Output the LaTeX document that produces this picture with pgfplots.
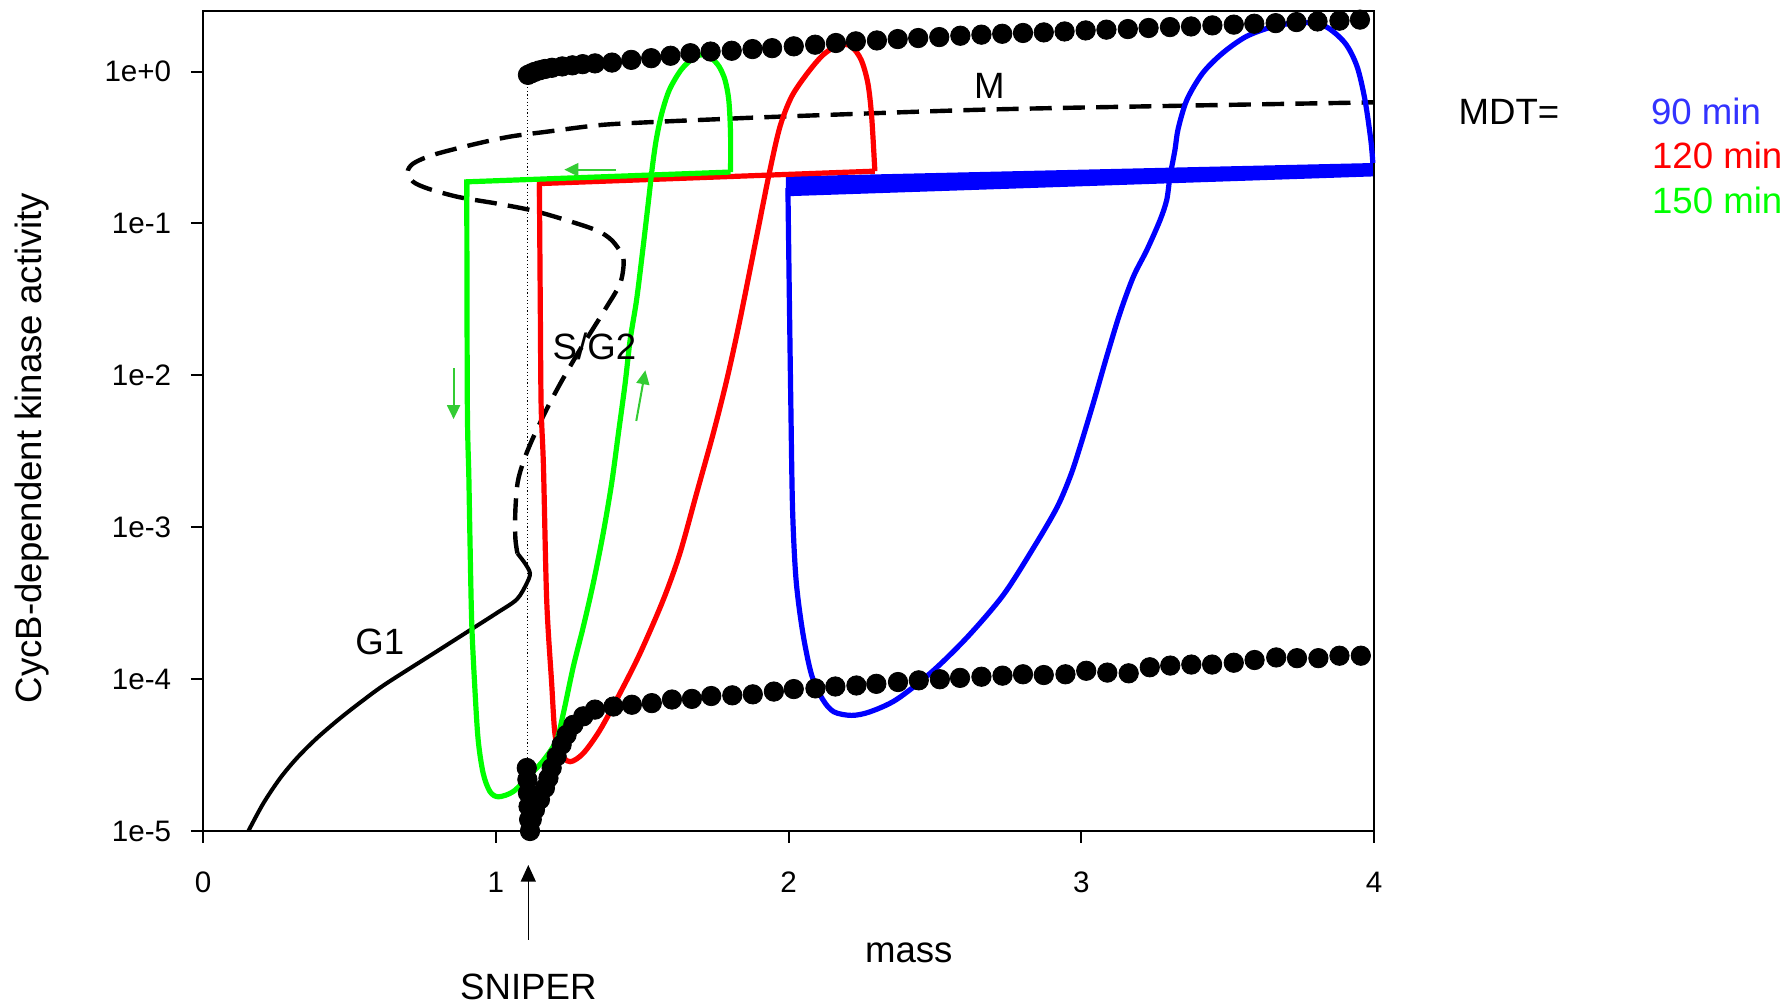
\documentclass[border=0pt]{standalone}
\usepackage{fontspec}
\setmainfont{Liberation Sans}
\usepackage{pgfplots}
\pgfplotsset{compat=1.18}
\usetikzlibrary{arrows.meta}
\definecolor{arrgreen}{RGB}{51,204,51}
\definecolor{txtblue}{RGB}{51,51,255}
\definecolor{cgreen}{RGB}{0,255,0}
\newcommand\lbl{\fontsize{18.3}{22}\selectfont}
\begin{document}
\begin{tikzpicture}
\path[use as bounding box] (-101.5pt,-87pt) rectangle (792.5pt,415.5pt);
\begin{axis}[
  at={(0pt,0pt)}, anchor=south west,
  scale only axis, width=585.5pt, height=409.8pt,
  xmin=0, xmax=4, ymode=log, ymin=1e-5, ymax=2.49,
  clip=false,
  axis line style={line width=1pt},
  tick pos=left, tick align=outside,
  major tick length=6pt,
  every tick/.style={black, line width=1pt},
  xtick={0,1,2,3,4}, xticklabels={0,1,2,3,4},
  ytick={1e-5,1e-4,1e-3,1e-2,1e-1,1},
  yticklabels={1e-5,1e-4,1e-3,1e-2,1e-1,1e+0},
  yminorticks=false,
  /pgf/number format/assume math mode=true,
  ticklabel style={font=\fontsize{14.8}{17}\selectfont},
  yticklabel style={anchor=east, inner sep=0pt, xshift=-9.7pt},
  xticklabel style={anchor=north, inner sep=0pt, yshift=-14.3pt},
]
% upper stable branch (max of oscillation)
\addplot[only marks, mark=*, mark size=4.85pt, black] coordinates {
(1.110,0.951)(1.122,0.975)(1.133,0.995)(1.149,1.019)(1.168,1.040)(1.192,1.059)(1.227,1.081)(1.262,1.099)(1.297,1.119)(1.339,1.132)(1.397,1.146)(1.463,1.194)(1.531,1.225)(1.597,1.271)(1.665,1.321)(1.734,1.355)(1.806,1.371)(1.877,1.406)(1.944,1.426)(2.018,1.466)(2.091,1.503)(2.162,1.542)(2.230,1.581)(2.302,1.603)(2.373,1.637)(2.443,1.663)(2.515,1.687)(2.587,1.722)(2.659,1.750)(2.730,1.774)(2.801,1.795)(2.872,1.811)(2.943,1.837)(3.015,1.866)(3.086,1.888)(3.159,1.905)(3.230,1.936)(3.303,1.963)(3.375,1.982)(3.448,2.014)(3.521,2.037)(3.591,2.065)(3.664,2.084)(3.735,2.118)(3.807,2.138)(3.882,2.163)(3.952,2.198)
};
% lower stable branch (min of oscillation)
\addplot[only marks, mark=*, mark size=4.85pt, black] coordinates {
(1.106,2.6e-5)(1.108,2.18e-5)(1.110,1.78e-5)(1.112,1.45e-5)(1.114,1.19e-5)(1.117,1.0e-5)(1.123,1.19e-5)(1.134,1.38e-5)(1.151,1.61e-5)(1.168,1.92e-5)(1.180,2.23e-5)(1.191,2.6e-5)(1.208,3.1e-5)(1.225,3.7e-5)(1.242,4.3e-5)(1.265,5.0e-5)(1.299,5.69e-5)(1.339,6.3e-5)(1.402,6.6e-5)(1.465,6.78e-5)(1.533,6.95e-5)(1.602,7.34e-5)(1.670,7.41e-5)(1.736,7.74e-5)(1.808,7.82e-5)(1.878,7.94e-5)(1.950,8.28e-5)(2.018,8.60e-5)(2.092,8.69e-5)(2.160,8.94e-5)(2.232,9.08e-5)(2.300,9.31e-5)(2.374,9.57e-5)(2.445,9.82e-5)(2.517,9.98e-5)(2.586,1.019e-4)(2.659,1.037e-4)(2.731,1.054e-4)(2.801,1.076e-4)(2.872,1.064e-4)(2.946,1.076e-4)(3.017,1.135e-4)(3.089,1.104e-4)(3.162,1.092e-4)(3.234,1.197e-4)(3.304,1.228e-4)(3.376,1.247e-4)(3.447,1.247e-4)(3.521,1.282e-4)(3.592,1.336e-4)(3.666,1.389e-4)(3.737,1.374e-4)(3.810,1.374e-4)(3.882,1.426e-4)(3.955,1.426e-4)
};
% SNIPER dotted line
\addplot[black, line width=0.5pt, dash pattern=on 0.6pt off 1.2pt] coordinates {(1.110,0.93)(1.110,2.7e-5)};
% G1 stable steady state (solid)
\addplot[black, line width=2pt, smooth, tension=0.5] coordinates {
(0.155,1e-5)(0.206,1.52e-5)(0.263,2.22e-5)(0.320,3.01e-5)(0.388,4.07e-5)(0.468,5.52e-5)(0.548,7.28e-5)(0.627,9.38e-5)(0.798,1.52e-4)(0.912,2.10e-4)(1.003,2.72e-4)(1.072,3.35e-4)(1.106,4.28e-4)(1.117,4.98e-4)(1.100,5.78e-4)(1.074,6.73e-4)
};
% unstable steady states (dashed)
\addplot[black, line width=2.2pt, dash pattern=on 11pt off 5.6pt, smooth, tension=0.5] coordinates {
(1.074,6.73e-4)(1.067,8.46e-4)(1.067,1.29e-3)(1.075,1.98e-3)(1.095,2.72e-3)(1.124,3.75e-3)(1.175,6.04e-3)(1.226,9.23e-3)(1.289,1.49e-2)(1.371,2.67e-2)(1.424,3.99e-2)(1.437,5.41e-2)(1.430,6.30e-2)(1.397,7.73e-2)(1.345,9.0e-2)(1.228,0.107)(1.123,0.122)(1.006,0.135)(0.875,0.149)(0.771,0.169)(0.718,0.188)(0.699,0.218)(0.718,0.248)(0.784,0.282)(0.914,0.328)(1.045,0.372)(1.175,0.402)(1.359,0.445)(1.554,0.467)(1.750,0.485)(1.959,0.504)(2.646,0.560)(3.321,0.595)(3.996,0.627)
};
% blue, MDT = 90 min
\addplot[fill=blue, draw=none] coordinates {(1.991,0.151)(3.996,0.204)(3.996,0.250)(1.991,0.204)} --cycle;
\addplot[blue, line width=2.6pt, smooth, tension=0.5] coordinates {
(1.998,0.171)(2.003,3.13e-2)(2.008,6.37e-3)(2.014,1.29e-3)(2.026,4.47e-4)(2.049,2.01e-4)(2.079,1.064e-4)(2.117,7.34e-5)(2.155,6.09e-5)(2.216,5.77e-5)(2.278,6.09e-5)(2.369,7.34e-5)(2.491,1.122e-4)(2.613,1.91e-4)(2.735,3.61e-4)(2.842,7.60e-4)(2.918,1.36e-3)(2.964,2.20e-3)(2.996,3.39e-3)(3.041,6.55e-3)(3.087,1.33e-2)(3.132,2.56e-2)(3.178,4.46e-2)(3.224,6.68e-2)(3.269,0.105)(3.292,0.143)(3.303,0.203)(3.320,0.304)(3.331,0.420)(3.361,0.653)(3.415,0.978)(3.483,1.324)(3.564,1.703)(3.658,1.983)(3.753,2.107)(3.834,1.983)(3.901,1.541)(3.942,1.081)(3.969,0.653)(3.989,0.356)(3.996,0.250)
};
% red, MDT = 120 min
\addplot[red, line width=2.6pt, smooth, tension=0.5] coordinates {
(1.149,0.183)(1.152,3.13e-2)(1.155,6.37e-3)(1.163,2.5e-3)(1.174,3.32e-4)(1.191,9.38e-5)(1.202,4.40e-5)(1.219,3.25e-5)(1.254,2.86e-5)(1.299,3.25e-5)(1.356,4.62e-5)(1.424,8.05e-5)(1.493,1.48e-4)(1.572,3.32e-4)(1.629,6.73e-4)(1.686,1.67e-3)(1.743,4.15e-3)(1.789,9.31e-3)(1.834,2.31e-2)(1.897,9.36e-2)(1.936,0.222)(1.971,0.435)(2.011,0.686)(2.065,0.978)(2.119,1.292)(2.173,1.501)(2.214,1.466)(2.248,1.197)(2.271,0.840)(2.284,0.507)(2.295,0.221)
};
\addplot[red, line width=2.6pt, line join=miter] coordinates {(2.295,0.221)(1.149,0.183)(1.149,0.15)};
% green, MDT = 150 min
\addplot[cgreen, line width=2.6pt, smooth, tension=0.5] coordinates {
(0.901,0.188)(0.903,6.37e-3)(0.908,2.2e-3)(0.912,8.2e-4)(0.918,2.33e-4)(0.929,8.47e-5)(0.940,3.97e-5)(0.957,2.4e-5)(0.980,1.82e-5)(1.009,1.68e-5)(1.060,1.82e-5)(1.117,2.34e-5)(1.165,2.95e-5)(1.208,3.97e-5)(1.231,5.96e-5)(1.265,1.21e-4)(1.299,2.21e-4)(1.333,4.27e-4)(1.367,9.12e-4)(1.396,1.95e-3)(1.419,4.15e-3)(1.442,8.85e-3)(1.459,1.71e-2)(1.481,3.13e-2)(1.502,6.64e-2)(1.522,0.142)(1.535,0.236)(1.548,0.354)(1.567,0.530)(1.593,0.757)(1.633,1.026)(1.678,1.244)(1.711,1.289)(1.737,1.224)(1.763,1.079)(1.783,0.882)(1.796,0.650)(1.802,0.391)(1.802,0.218)
};
\addplot[cgreen, line width=2.6pt, line join=miter] coordinates {(1.802,0.218)(0.901,0.188)(0.901,0.15)};
% green direction arrows
\addplot[arrgreen, line width=1pt, -{Triangle[length=7pt,width=6.5pt]}] coordinates {(1.411,0.226)(1.234,0.226)};
\addplot[arrgreen, line width=1pt, -{Triangle[length=7pt,width=6.5pt]}] coordinates {(0.856,0.01113)(0.856,5.15e-3)};
\addplot[arrgreen, line width=1pt, -{Triangle[length=7pt,width=6.5pt]}] coordinates {(1.480,5.01e-3)(1.511,1.08e-2)};
\end{axis}
% labels
\node[font=\lbl, anchor=base, inner sep=0pt] at (393.2pt,366.35pt) {M};
\node[font=\lbl, anchor=base, inner sep=0pt] at (195.7pt,235.6pt) {S/G2};
\node[font=\lbl, anchor=base, inner sep=0pt] at (88.35pt,88.35pt) {G1};
\node[font=\lbl, anchor=base, inner sep=0pt] at (352.9pt,-66pt) {mass};
\node[font=\lbl, anchor=base, inner sep=0pt] at (162.65pt,-84.5pt) {SNIPER};
\draw[line width=0.6pt, -{Triangle[length=8.3pt,width=7.5pt]}] (162.65pt,-54.5pt) -- (162.65pt,-17pt);
\node[font=\lbl, anchor=base, rotate=90, inner sep=0pt] at (-80.7pt,191.5pt) {CycB-dependent kinase activity};
\node[font=\lbl, anchor=base west, inner sep=0pt] at (627.65pt,353pt) {MDT=};
\node[font=\lbl, anchor=base west, inner sep=0pt, text=txtblue] at (723.85pt,353pt) {90 min};
\node[font=\lbl, anchor=base west, inner sep=0pt, text=red] at (724.35pt,331.35pt) {120 min};
\node[font=\lbl, anchor=base west, inner sep=0pt, text=cgreen] at (724.35pt,308.85pt) {150 min};
\end{tikzpicture}
\end{document}
